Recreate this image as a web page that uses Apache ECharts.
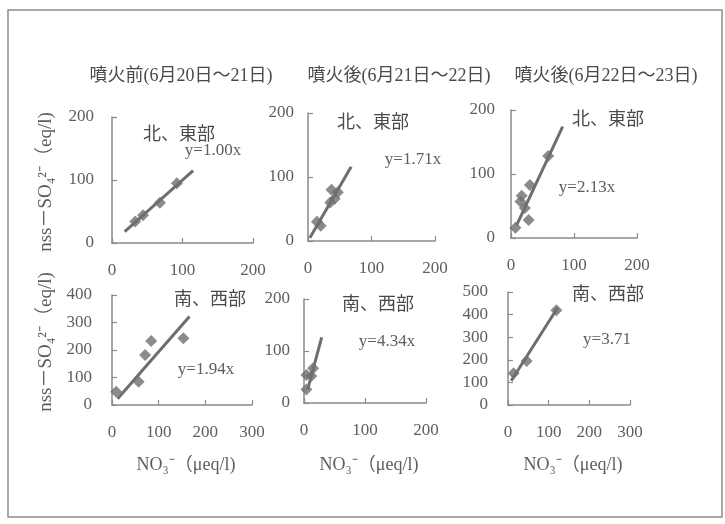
<!DOCTYPE html>
<html>
<head>
<meta charset="utf-8">
<script src="https://cdn.jsdelivr.net/npm/echarts@6/dist/echarts.min.js"></script>
<style>
  html, body { margin: 0; padding: 0; background: #fff; }
  #chart { width: 725px; height: 524px; }
</style>
</head>
<body>
<div id="chart"></div>
<script>
// column headings
const periodTitles = ['噴火前(6月20日〜21日)', '噴火後(6月21日〜22日)', '噴火後(6月22日〜23日)']
const regionLabels = ['北、東部', '北、東部', '北、東部', '南、西部', '南、西部', '南、西部']
const equations = ['y=1.00x', 'y=1.71x', 'y=2.13x', 'y=1.94x', 'y=4.34x', 'y=3.71']

// axis maxima per panel (x, y) — ticks every 100
const xMax = [200, 200, 200, 300, 200, 300]
const yMax = [200, 200, 200, 400, 200, 500]

// NO3- vs nss-SO4 2- points
const pointsN1 = [[33, 34], [44, 44], [68, 64], [92, 95]]
const pointsN2 = [[14, 30], [20, 24], [35, 60], [42, 66], [37, 80], [47, 76]]
const pointsN3 = [[7, 16], [15, 57], [17, 66], [22, 47], [28, 28], [30, 83], [59, 128]]
const pointsS1 = [[9, 48], [57, 85], [71, 182], [84, 233], [153, 243]]
const pointsS2 = [[4, 26], [4, 54], [12, 52], [15, 67]]
const pointsS3 = [[14, 140], [46, 195], [119, 419]]

// fitted lines (end points)
const lineN1 = [[18, 18], [115, 115]]
const lineN2 = [[3, 5], [68, 116]]
const lineN3 = [[9, 20], [82, 174]]
const lineS1 = [[12, 23], [166, 322]]
const lineS2 = [[6, 26], [29, 126]]
const lineS3 = [[8, 107], [122, 430]]

const allPoints = [pointsN1, pointsN2, pointsN3, pointsS1, pointsS2, pointsS3]
const allLines = [lineN1, lineN2, lineN3, lineS1, lineS2, lineS3]

// grid boxes in pixels: left, top, width, height
const boxes = [
  [112, 117, 141, 126],
  [308, 113, 127, 128],
  [511, 110, 126, 128],
  [112, 295, 140, 110],
  [304, 299, 122, 104],
  [508, 292, 122, 113]
]
const yLabelMargin = [18, 14, 16, 20, 14, 20]

const FONT = '"Liberation Serif", "Noto Sans CJK JP", serif'
const AXIS = '#8a8a8a'
const TXT = '#5e5e5e'
const MARK = '#6e6e6e'

const chart = echarts.init(document.getElementById('chart'))

const grid = boxes.map(b => ({ left: b[0], top: b[1], width: b[2], height: b[3], containLabel: false }))

const axisCommon = {
  type: 'value',
  interval: 100,
  splitLine: { show: false },
  axisLine: { show: true, onZero: false, lineStyle: { color: AXIS, width: 1.5 } },
  axisTick: { show: true, inside: true, length: 5, lineStyle: { color: AXIS, width: 1.2 } }
}

const xAxis = boxes.map((b, i) => ({
  ...axisCommon,
  gridIndex: i,
  min: 0,
  max: xMax[i],
  axisLabel: { color: TXT, fontFamily: FONT, fontSize: 17, margin: 19 }
}))

const yAxis = boxes.map((b, i) => ({
  ...axisCommon,
  gridIndex: i,
  min: 0,
  max: yMax[i],
  axisLabel: { color: TXT, fontFamily: FONT, fontSize: 17, margin: yLabelMargin[i] }
}))

const series = []
allPoints.forEach((pts, i) => {
  series.push({
    type: 'scatter',
    xAxisIndex: i,
    yAxisIndex: i,
    data: pts,
    symbol: 'diamond',
    symbolSize: 12,
    itemStyle: { color: MARK },
    z: 2
  })
  series.push({
    type: 'line',
    xAxisIndex: i,
    yAxisIndex: i,
    data: allLines[i],
    showSymbol: false,
    lineStyle: { color: MARK, width: 3 },
    z: 3
  })
})

const textEl = (text, x, y, size, extra) => ({
  type: 'text',
  x: x,
  y: y,
  style: Object.assign({
    text: text,
    fill: TXT,
    font: size + 'px ' + FONT,
    textAlign: 'center',
    textVerticalAlign: 'middle'
  }, extra || {})
})

const titlePos = [[181, 76], [399, 76], [606, 76]]
const regionPos = [[179, 135], [373, 123], [608, 120], [210, 300], [378, 305], [608, 295]]
const eqPos = [[213, 151], [413, 160], [587, 188], [206, 370], [387, 342], [607, 340]]
const xNamePos = [[186, 465], [369, 465], [573, 465]]
const yNamePos = [[46, 182], [46, 342]]

const graphic = [
  {
    type: 'rect',
    shape: { x: 8, y: 10, width: 714, height: 507 },
    style: { fill: 'none', stroke: '#8c8c8c', lineWidth: 1.5 }
  }
]
periodTitles.forEach((t, i) => graphic.push(textEl(t, titlePos[i][0], titlePos[i][1], 18, { fill: '#4a4a4a' })))
regionLabels.forEach((t, i) => graphic.push(textEl(t, regionPos[i][0], regionPos[i][1], 18, { fill: '#4a4a4a' })))
equations.forEach((t, i) => graphic.push(textEl(t, eqPos[i][0], eqPos[i][1], 17)))
xNamePos.forEach(p => graphic.push(textEl('NO₃⁻（μeq/l)', p[0], p[1], 18)))
yNamePos.forEach(p => graphic.push(Object.assign(textEl('nss－SO₄²⁻（eq/l)', 0, 0, 19), {
  x: p[0], y: p[1], rotation: Math.PI / 2
})))

chart.setOption({
  backgroundColor: '#ffffff',
  animation: false,
  grid: grid,
  xAxis: xAxis,
  yAxis: yAxis,
  series: series,
  graphic: graphic
})
</script>
</body>
</html>
